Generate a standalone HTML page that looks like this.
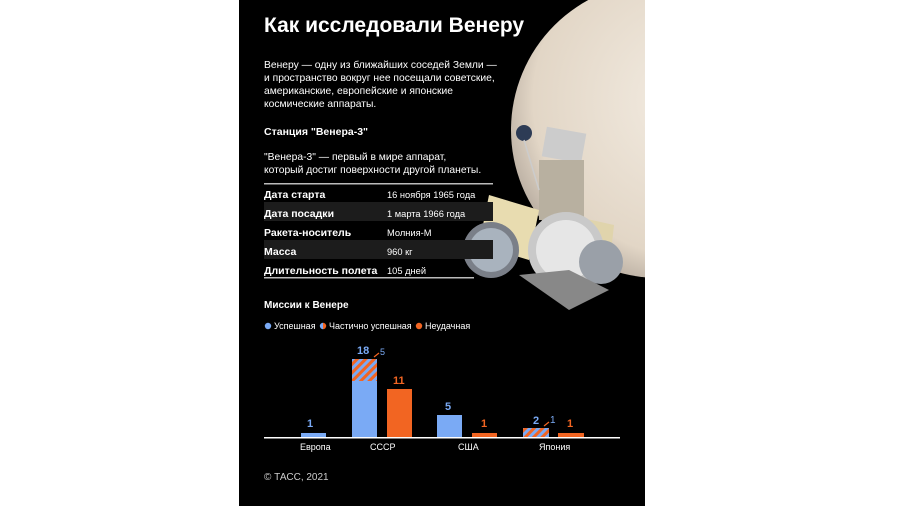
<!DOCTYPE html>
<html><head><meta charset="utf-8"><style>
body{margin:0;width:900px;height:506px;background:#fff;position:relative;overflow:hidden;font-family:"Liberation Sans",sans-serif}
#p{position:absolute;left:239px;top:0;width:406px;height:506px;background:#000;overflow:hidden}
.t{position:absolute;color:#fff;white-space:nowrap}
</style></head><body>
<div id="p">
<svg width="406" height="506" style="position:absolute;left:0;top:0">
<defs>
<radialGradient id="v" cx="0.6" cy="0.4" r="0.7"><stop offset="0" stop-color="#f3ece2"/><stop offset="0.75" stop-color="#e2d6c6"/><stop offset="1" stop-color="#a89d92"/></radialGradient>
<pattern id="h" width="6" height="6" patternUnits="userSpaceOnUse" patternTransform="rotate(45)"><rect width="6" height="6" fill="#7aaaf5"/><rect width="3" height="6" fill="#f26522"/></pattern>
</defs>
<circle cx="420" cy="130" r="148" fill="url(#v)"/>
<g>
<polygon points="250,195 300,210 290,260 240,245" fill="#e8dcb0"/>
<polygon points="330,215 375,225 370,270 325,258" fill="#e0d4ac"/>
<rect x="305" y="130" width="40" height="30" fill="#ccc" transform="rotate(10 325 145)"/>
<rect x="300" y="160" width="45" height="60" fill="#b8b0a0"/>
<circle cx="252" cy="250" r="28" fill="#7a7f88"/>
<circle cx="252" cy="250" r="22" fill="#a9b3be"/>
<circle cx="327" cy="250" r="38" fill="#c9c9c9"/>
<circle cx="327" cy="250" r="30" fill="#e6e6e6"/>
<circle cx="362" cy="262" r="22" fill="#9aa0a8"/>
<polygon points="280,275 330,310 370,290 330,270" fill="#888"/>
<circle cx="285" cy="133" r="8" fill="#2d3b55"/>
<line x1="285" y1="140" x2="300" y2="190" stroke="#ccc" stroke-width="1.5"/>
</g>
<rect x="25" y="183" width="229" height="1.5" fill="#bbb"/>
<rect x="25" y="202" width="229" height="19" fill="#1c1c1c"/>
<rect x="25" y="240" width="229" height="19" fill="#1c1c1c"/>
<rect x="25" y="277" width="210" height="1.5" fill="#bbb"/>
<rect x="25" y="437" width="356" height="1.5" fill="#fff"/>
<rect x="62" y="433" width="25" height="4" fill="#7aaaf5"/>
<rect x="113" y="359" width="25" height="78" fill="#7aaaf5"/>
<rect x="113" y="359" width="25" height="22" fill="url(#h)"/>
<rect x="148" y="389" width="25" height="48" fill="#f26522"/>
<rect x="198" y="415" width="25" height="22" fill="#7aaaf5"/>
<rect x="233" y="433" width="25" height="4" fill="#f26522"/>
<rect x="284" y="428" width="26" height="9" fill="url(#h)"/>
<rect x="319" y="433" width="26" height="4" fill="#f26522"/>
<line x1="135" y1="357" x2="140" y2="353" stroke="#f26522" stroke-width="1.2"/>
<line x1="305" y1="426" x2="310" y2="422" stroke="#f26522" stroke-width="1.2"/>
<circle cx="29" cy="326" r="3.2" fill="#7aaaf5"/>
<path d="M84,322.8 a3.2,3.2 0 0 0 0,6.4z" fill="#7aaaf5"/><path d="M84,322.8 a3.2,3.2 0 0 1 0,6.4z" fill="#f26522"/>
<circle cx="180" cy="326" r="3.2" fill="#f26522"/>
</svg>
<div class="t" style="left:25px;top:14px;font-size:21px;font-weight:bold">Как исследовали Венеру</div>
<div class="t" style="left:25px;top:59px;font-size:10.3px;line-height:13px">Венеру — одну из ближайших соседей Земли —<br>и пространство вокруг нее посещали советские,<br>американские, европейские и японские<br>космические аппараты.</div>
<div class="t" style="left:25px;top:126px;font-size:10.5px;font-weight:bold">Станция "Венера-3"</div>
<div class="t" style="left:25px;top:151px;font-size:10.3px;line-height:13px">"Венера-3" — первый в мире аппарат,<br>который достиг поверхности другой планеты.</div>
<div class="t" style="left:25px;top:186px;font-size:10.5px;font-weight:bold;line-height:19px">Дата старта<br>Дата посадки<br>Ракета-носитель<br>Масса<br>Длительность полета</div>
<div class="t" style="left:148px;top:186px;font-size:9.3px;line-height:19px">16 ноября 1965 года<br>1 марта 1966 года<br>Молния-М<br>960 кг<br>105 дней</div>
<div class="t" style="left:25px;top:300px;font-size:10px;font-weight:bold">Миссии к Венере</div>
<div class="t" style="left:35px;top:321px;font-size:9px">Успешная</div>
<div class="t" style="left:90px;top:321px;font-size:9px">Частично успешная</div>
<div class="t" style="left:186px;top:321px;font-size:9px">Неудачная</div>
<div class="t" style="left:68px;top:418px;font-size:11px;font-weight:bold;color:#7aaaf5">1</div>
<div class="t" style="left:118px;top:345px;font-size:11px;font-weight:bold;color:#7aaaf5">18</div>
<div class="t" style="left:141px;top:347px;font-size:9px;color:#7aaaf5">5</div>
<div class="t" style="left:154px;top:375px;font-size:11px;font-weight:bold;color:#f26522">11</div>
<div class="t" style="left:206px;top:401px;font-size:11px;font-weight:bold;color:#7aaaf5">5</div>
<div class="t" style="left:242px;top:418px;font-size:11px;font-weight:bold;color:#f26522">1</div>
<div class="t" style="left:294px;top:415px;font-size:11px;font-weight:bold;color:#7aaaf5">2</div>
<div class="t" style="left:311px;top:415px;font-size:10px;color:#7aaaf5">1</div>
<div class="t" style="left:328px;top:418px;font-size:11px;font-weight:bold;color:#f26522">1</div>
<div class="t" style="left:61px;top:442px;font-size:9px">Европа</div>
<div class="t" style="left:131px;top:442px;font-size:9px">СССР</div>
<div class="t" style="left:219px;top:442px;font-size:9px">США</div>
<div class="t" style="left:300px;top:442px;font-size:9px">Япония</div>
<div class="t" style="left:25px;top:472px;font-size:10px;color:#ccc">© ТАСС, 2021</div>
</div>
</body></html>
